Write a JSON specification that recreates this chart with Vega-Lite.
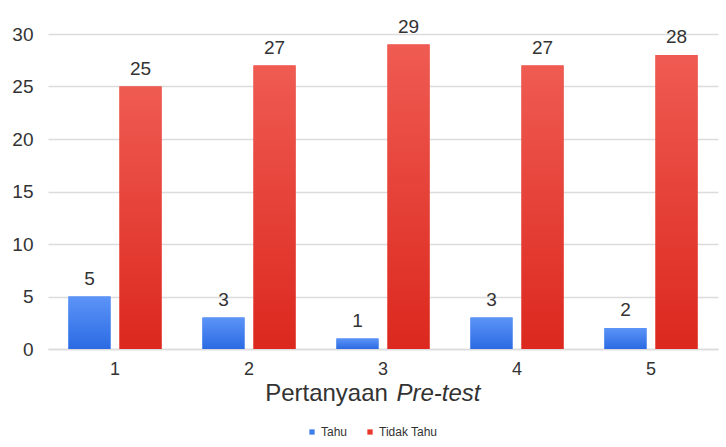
{
  "$schema": "https://vega.github.io/schema/vega-lite/v6.json",
  "width": 670,
  "height": 315,
  "padding": {"left": 11, "top": 17, "right": 8, "bottom": 5},
  "config": {
    "font": "Liberation Sans",
    "view": {"stroke": null},
    "axis": {"labelFont": "Liberation Sans", "titleFont": "Liberation Sans"}
  },
  "data": {
    "values": [
      {"q": "1", "s": "Tahu", "v": 5},
      {"q": "1", "s": "Tidak Tahu", "v": 25},
      {"q": "2", "s": "Tahu", "v": 3},
      {"q": "2", "s": "Tidak Tahu", "v": 27},
      {"q": "3", "s": "Tahu", "v": 1},
      {"q": "3", "s": "Tidak Tahu", "v": 29},
      {"q": "4", "s": "Tahu", "v": 3},
      {"q": "4", "s": "Tidak Tahu", "v": 27},
      {"q": "5", "s": "Tahu", "v": 2},
      {"q": "5", "s": "Tidak Tahu", "v": 28}
    ]
  },
  "encoding": {
    "xOffset": {"field": "s", "type": "nominal", "scale": {"domain": ["Tahu", "Tidak Tahu"], "paddingInner": 0.176}},
    "y": {
      "field": "v", "type": "quantitative",
      "scale": {"domain": [0, 30]},
      "axis": {"values": [0, 5, 10, 15, 20, 25, 30], "title": null, "domain": false, "ticks": false, "labelFontSize": 19, "labelColor": "#333", "labelPadding": 15, "gridColor": "#dcdcdc", "gridWidth": 1.5}
    }
  },
  "resolve": {"axis": {"x": "independent"}},
  "layer": [
    {
      "mark": {"type": "bar"},
      "encoding": {
        "x": {"field": "q", "type": "ordinal", "scale": {"paddingInner": 0.305, "paddingOuter": 0.1525},
          "axis": {"labelAngle": 0, "labelFontSize": 18, "labelColor": "#333", "labelPadding": 11, "ticks": false, "domainColor": "#dcdcdc", "domainWidth": 1.5, "title": "Pertanyaan", "titleFontSize": 24, "titleFontWeight": "normal", "titleColor": "#333", "titleAlign": "center", "titleX": 278, "titleY": 32}},
        "color": {"field": "s", "type": "nominal", "scale": {"domain": ["Tahu", "Tidak Tahu"], "range": ["#3f7ef0", "#e8382c"]},
          "legend": {"orient": "none", "legendX": 258, "legendY": 392, "direction": "horizontal", "title": null, "symbolType": "square", "symbolSize": 28, "labelFontSize": 12, "labelColor": "#333", "labelOffset": 3, "columnPadding": 16}}
      }
    },
    {
      "transform": [{"filter": "datum.s === 'Tahu'"}],
      "mark": {"type": "bar", "fill": {"gradient": "linear", "x1": 0, "y1": 0, "x2": 0, "y2": 1, "stops": [{"offset": 0, "color": "#5c94f7"}, {"offset": 1, "color": "#2b6ae3"}]}},
      "encoding": {"x": {"field": "q", "type": "ordinal", "axis": null}}
    },
    {
      "transform": [{"filter": "datum.s === 'Tidak Tahu'"}],
      "mark": {"type": "bar", "fill": {"gradient": "linear", "x1": 0, "y1": 0, "x2": 0, "y2": 1, "stops": [{"offset": 0, "color": "#ef5b52"}, {"offset": 1, "color": "#dc281e"}]}},
      "encoding": {"x": {"field": "q", "type": "ordinal", "axis": null}}
    },
    {
      "mark": {"type": "text", "baseline": "middle", "dy": -18, "fontSize": 19, "color": "#333"},
      "encoding": {
        "x": {"field": "q", "type": "ordinal",
          "axis": {"orient": "bottom", "labels": false, "ticks": false, "domain": false, "grid": false, "title": "Pre-test", "titleFontSize": 24, "titleFontWeight": "normal", "titleFontStyle": "italic", "titleColor": "#333", "titleAlign": "center", "titleX": 390, "titleY": 32}},
        "text": {"field": "v", "type": "quantitative"}
      }
    }
  ]
}
